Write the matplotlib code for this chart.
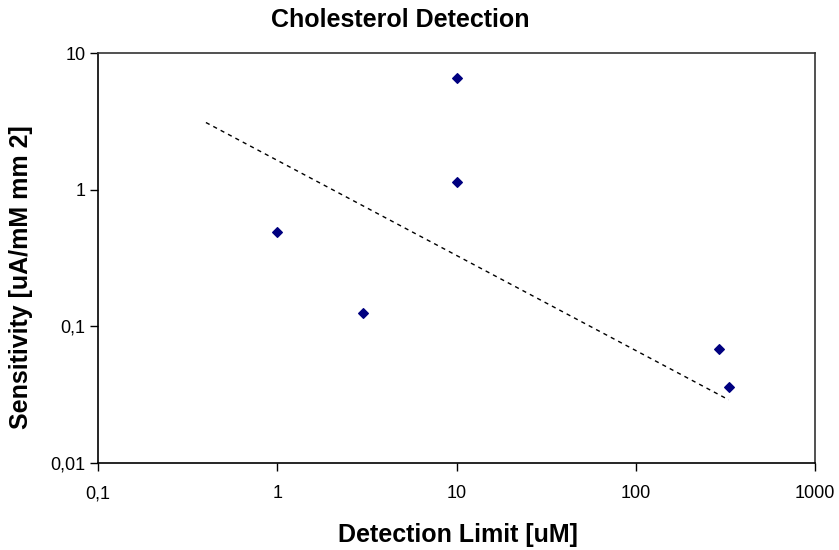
import matplotlib.pyplot as plt
from matplotlib.ticker import FixedLocator, NullLocator

plt.rcParams['font.family'] = ['Liberation Sans', 'DejaVu Sans']

# data
detection_limit = [1, 3, 10, 10, 290, 330]
sensitivity = [0.49, 0.125, 6.6, 1.13, 0.068, 0.036]

# dashed trend line end points
trend_x = [0.4, 330]
trend_y = [3.1, 0.029]

x_ticks = [0.1, 1, 10, 100, 1000]
x_labels = ['0,1', '1', '10', '100', '1000']
y_ticks = [0.01, 0.1, 1, 10]
y_labels = ['0,01', '0,1', '1', '10']

fig = plt.figure(figsize=(8.39, 5.5), dpi=100)
ax = fig.add_axes([98 / 839, 1 - 463 / 550, (815 - 98) / 839, (463 - 53) / 550])

ax.plot(trend_x, trend_y, linestyle=(0, (3, 3)), color='black', linewidth=1)
ax.scatter(detection_limit, sensitivity, marker='D', s=24, color='#000080', zorder=3)

ax.set_xscale('log')
ax.set_yscale('log')
ax.set_xlim(0.1, 1000)
ax.set_ylim(0.01, 10)
ax.xaxis.set_major_locator(FixedLocator(x_ticks))
ax.yaxis.set_major_locator(FixedLocator(y_ticks))
ax.xaxis.set_minor_locator(NullLocator())
ax.yaxis.set_minor_locator(NullLocator())
ax.set_xticklabels(x_labels, fontsize=13)
ax.set_yticklabels(y_labels, fontsize=13)
ax.tick_params(length=6, width=1, color='black')
ax.tick_params(axis='x', pad=10)
ax.tick_params(axis='y', pad=3)

for side in ['left', 'bottom']:
    ax.spines[side].set_color('black')
    ax.spines[side].set_linewidth(1.2)
for side in ['top', 'right']:
    ax.spines[side].set_color('#333333')
    ax.spines[side].set_linewidth(1.2)

fig.text(458 / 839, 1 - 535 / 550, 'Detection Limit [uM]', fontsize=18,
         fontweight='bold', ha='center', va='center')
fig.text(21 / 839, 1 - 277 / 550, 'Sensitivity [uA/mM mm 2]', fontsize=18,
         fontweight='bold', ha='center', va='center', rotation=90)
fig.text(400 / 839, 1 - 20 / 550, 'Cholesterol Detection', fontsize=18,
         fontweight='bold', ha='center', va='center')

fig.savefig('out.png', dpi=100)
